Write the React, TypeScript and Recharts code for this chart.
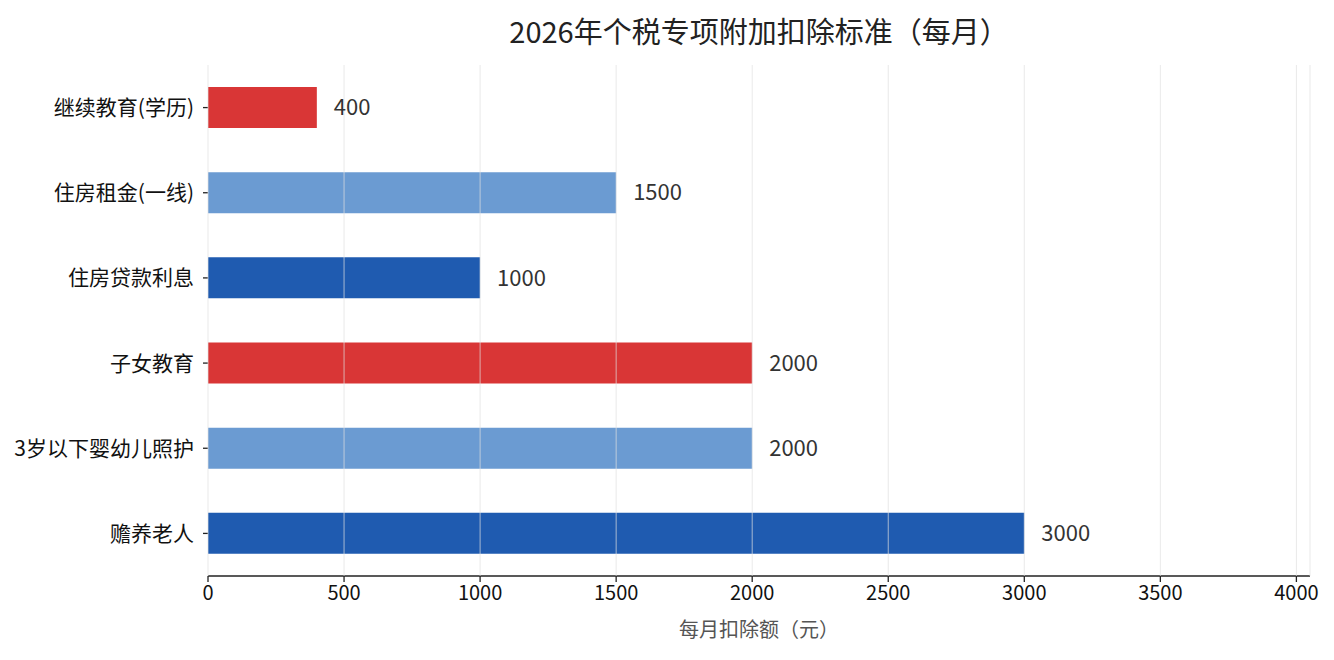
import React from 'react'
import { Bar, BarChart, CartesianGrid, Cell, LabelList, XAxis, YAxis } from 'recharts'

const categories = ['继续教育(学历)', '住房租金(一线)', '住房贷款利息', '子女教育', '3岁以下婴幼儿照护', '赡养老人']
const amounts = [400, 1500, 1000, 2000, 2000, 3000]
const barColors = ['#d93636', '#6b9bd2', '#1f5bb0', '#d93636', '#6b9bd2', '#1f5bb0']
const xTicks = [0, 500, 1000, 1500, 2000, 2500, 3000, 3500, 4000]

const data = categories.map((name, i) => ({ name, value: amounts[i] }))

const FONT = '"Noto Sans CJK SC", "Noto Sans", sans-serif'

const App = (): React.JSX.Element => {
  return (
    <div style={{ position: 'absolute', left: 0, top: 0, width: 1334, height: 660, fontFamily: FONT }}>
      <div
        style={{
          position: 'absolute',
          left: 208,
          width: 1102,
          top: 8,
          textAlign: 'center',
          fontSize: 29,
          color: '#222',
          lineHeight: '44px'
        }}
      >
        2026年个税专项附加扣除标准（每月）
      </div>
      <BarChart
        width={1334}
        height={660}
        data={data}
        layout="vertical"
        margin={{ top: 65, right: 24, left: 0, bottom: 34 }}
        barSize={41}
      >
        <XAxis
          type="number"
          dataKey="value"
          domain={[0, 4050]}
          ticks={xTicks}
          interval={0}
          height={50}
          tick={{ fill: '#111', fontSize: 20, fontFamily: FONT }}
          tickLine={{ stroke: '#222', strokeWidth: 1.3 }}
          axisLine={{ stroke: '#222', strokeWidth: 1.3 }}
          tickSize={6}
          tickMargin={4}
          label={{ value: '每月扣除额（元）', position: 'insideBottom', offset: -11, fill: '#555', fontSize: 20, fontFamily: FONT }}
        />
        <YAxis
          type="category"
          dataKey="name"
          width={208}
          axisLine={false}
          tick={{ fill: '#111', fontSize: 21, fontFamily: FONT }}
          tickLine={{ stroke: '#222', strokeWidth: 1.3 }}
          tickSize={5}
          tickMargin={9}
        />
        <Bar dataKey="value" isAnimationActive={false}>
          {data.map((d, i) => (
            <Cell key={d.name} fill={barColors[i]} />
          ))}
          <LabelList dataKey="value" position="right" offset={17} fill="#333" fontSize={22} fontFamily={FONT} />
        </Bar>
        <CartesianGrid horizontal={false} stroke="#e0e0e0" strokeOpacity={0.7} zIndex={500} />
      </BarChart>
    </div>
  )
}

export default App
